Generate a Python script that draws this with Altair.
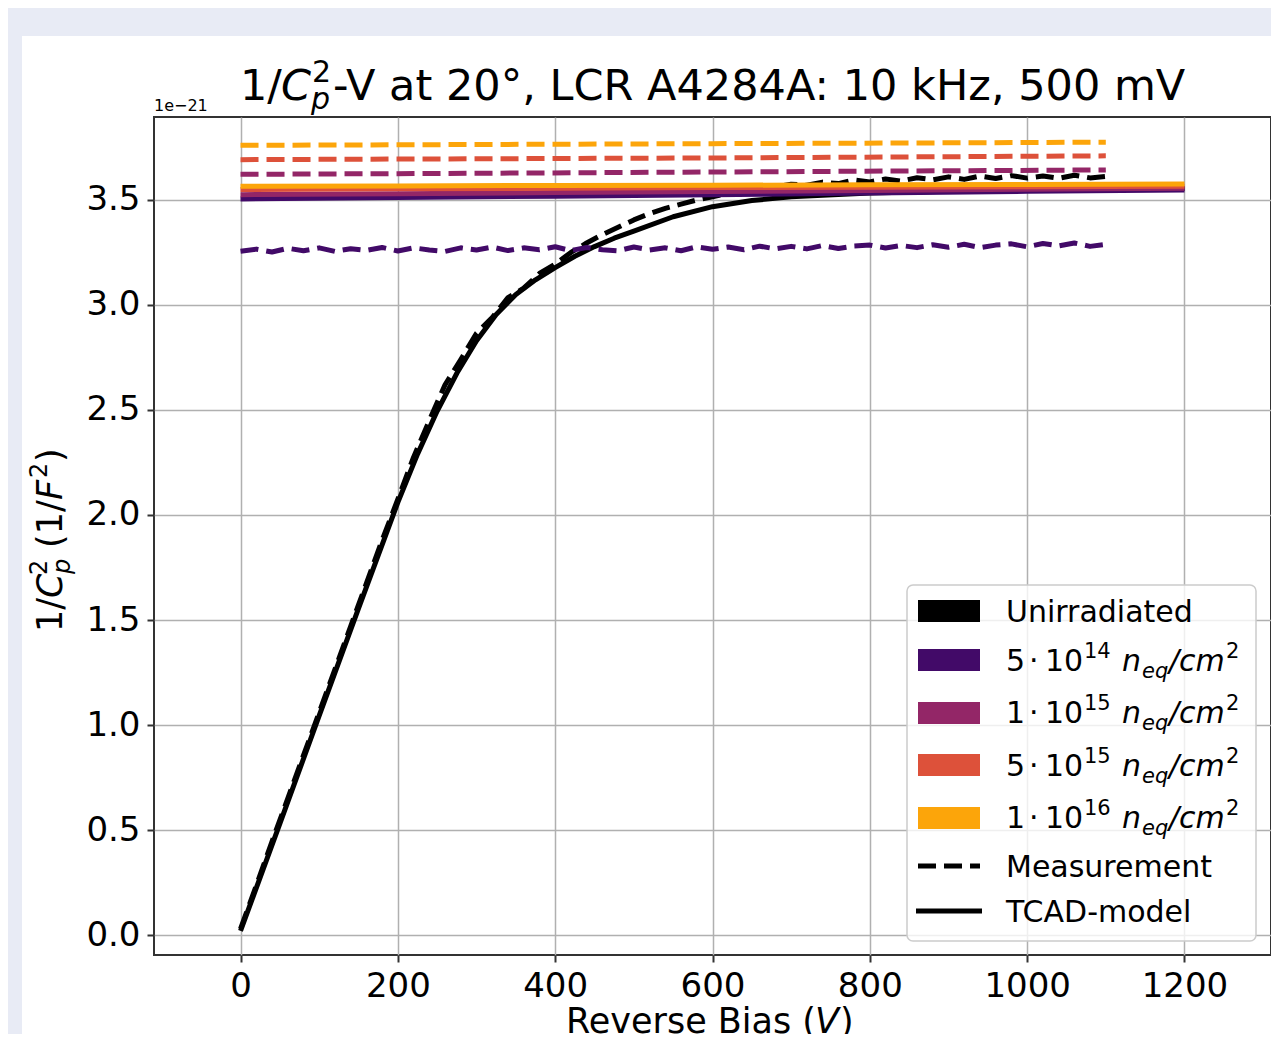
import altair as alt
import pandas as pd

# ---------------- data (1/C^2 in units of 1e-21 F^-2) ----------------
V_unirr_meas = list(range(0, 1101, 20))
unirr_meas = [0.03, 0.235, 0.445, 0.65, 0.855, 1.06, 1.265, 1.47, 1.675, 1.88,
              2.075, 2.275, 2.45, 2.62, 2.74, 2.865, 2.94, 3.035, 3.08, 3.15,
              3.195, 3.25, 3.295, 3.335, 3.37, 3.405, 3.435, 3.46, 3.48, 3.5,
              3.515, 3.532, 3.54, 3.558, 3.562, 3.575, 3.57, 3.585, 3.578, 3.595,
              3.586, 3.6, 3.59, 3.606, 3.596, 3.61, 3.598, 3.614, 3.602, 3.616,
              3.604, 3.614, 3.603, 3.618, 3.605, 3.612]

V_unirr_tcad = [0, 50, 100, 150, 200, 225, 250, 275, 300, 325, 350, 375, 400,
                425, 450, 475, 500, 550, 600, 650, 700, 800, 900, 1000, 1100, 1200]
unirr_tcad = [0.02, 0.53, 1.045, 1.555, 2.06, 2.29, 2.495, 2.675, 2.83, 2.955,
              3.05, 3.12, 3.178, 3.232, 3.278, 3.318, 3.352, 3.42, 3.468, 3.497,
              3.515, 3.533, 3.542, 3.547, 3.551, 3.554]

V_5e14_meas = list(range(0, 1101, 20))
f5e14_meas = [3.256, 3.266, 3.252, 3.27, 3.258, 3.272, 3.255, 3.268, 3.26, 3.274,
              3.257, 3.272, 3.262, 3.255, 3.272, 3.262, 3.276, 3.259, 3.272, 3.263,
              3.277, 3.259, 3.274, 3.263, 3.258, 3.276, 3.262, 3.272, 3.258, 3.277,
              3.265, 3.276, 3.263, 3.28, 3.267, 3.279, 3.267, 3.283, 3.269, 3.281,
              3.285, 3.271, 3.283, 3.273, 3.287, 3.275, 3.289, 3.273, 3.285, 3.291,
              3.277, 3.293, 3.281, 3.295, 3.279, 3.288]

V_flat_meas = [0, 300, 600, 900, 1100]
f1e15_meas = [3.622, 3.627, 3.633, 3.639, 3.643]
f5e15_meas = [3.692, 3.696, 3.700, 3.706, 3.710]
f1e16_meas = [3.760, 3.764, 3.768, 3.772, 3.775]

V_tcad_irr = [0, 200, 400, 600, 800, 1000, 1200]
f5e14_tcad = [3.505, 3.512, 3.518, 3.525, 3.533, 3.541, 3.548]
f1e15_tcad = [3.525, 3.530, 3.535, 3.540, 3.545, 3.551, 3.556]
f5e15_tcad = [3.550, 3.553, 3.556, 3.559, 3.561, 3.563, 3.565]
f1e16_tcad = [3.565, 3.567, 3.569, 3.570, 3.572, 3.574, 3.576]

series_colors = ["#000000", "#420a68", "#932667", "#dd513a", "#fca50a"]
x_ticks = [0, 200, 400, 600, 800, 1000, 1200]
y_ticks = [0.0, 0.5, 1.0, 1.5, 2.0, 2.5, 3.0, 3.5]

FONT = "DejaVu Sans"
OX, OY = 154, 117          # page position of the plot area's top-left corner
W, H = 1117, 838

X = alt.X("V:Q", scale=alt.Scale(domain=[-110, 1310], nice=False, zero=False),
          axis=alt.Axis(values=x_ticks, format="d", title=None))
Y = alt.Y("val:Q", scale=alt.Scale(domain=[-0.095, 3.895], nice=False, zero=False),
          axis=alt.Axis(values=y_ticks, format=".1f", title=None))


def line(vs, vals, color, dashed):
    df = pd.DataFrame({"V": vs, "val": vals})
    kw = dict(color=color, strokeWidth=5, strokeJoin="round", clip=True)
    if dashed:
        kw["strokeDash"] = [18, 8]
    return alt.Chart(df).mark_line(**kw).encode(x=X, y=Y)


one = pd.DataFrame({"a": [0]})


def piece(text, px, py, size, italic=False, angle=0):
    kw = dict(text=text, align="left", baseline="alphabetic", fontSize=size,
              font=FONT, color="black")
    if italic:
        kw["fontStyle"] = "italic"
    if angle:
        kw["angle"] = angle
    return alt.Chart(one).mark_text(**kw).encode(
        x=alt.value(px - OX), y=alt.value(py - OY))


def box(x1, y1, x2, y2, **kw):
    return alt.Chart(one).mark_rect(**kw).encode(
        x=alt.value(x1 - OX), x2=alt.value(x2 - OX),
        y=alt.value(y1 - OY), y2=alt.value(y2 - OY))


layers = []
# page-like lavender strips around the white figure
layers.append(box(8, 8, 1290, 36, color="#e8ebf5", clip=False))
layers.append(box(8, 8, 22, 1040, color="#e8ebf5", clip=False))

# data lines (drawing order: measurement then model for each fluence)
layers += [
    line(V_unirr_meas, unirr_meas, series_colors[0], True),
    line(V_unirr_tcad, unirr_tcad, series_colors[0], False),
    line(V_5e14_meas, f5e14_meas, series_colors[1], True),
    line(V_tcad_irr, f5e14_tcad, series_colors[1], False),
    line(V_flat_meas, f1e15_meas, series_colors[2], True),
    line(V_tcad_irr, f1e15_tcad, series_colors[2], False),
    line(V_flat_meas, f5e15_meas, series_colors[3], True),
    line(V_tcad_irr, f5e15_tcad, series_colors[3], False),
    line(V_flat_meas, f1e16_meas, series_colors[4], True),
    line(V_tcad_irr, f1e16_tcad, series_colors[4], False),
]

# ---------------- legend ----------------
layers.append(box(907, 585, 1256, 941, fill="white", fillOpacity=0.8,
                  stroke="#cccccc", strokeWidth=1.5, cornerRadius=6))
patch_centers = [611, 660, 713, 765, 818]
text_base = [622, 671, 723, 776, 828]
for c, yc in zip(series_colors, patch_centers):
    layers.append(box(918, yc - 11, 980, yc + 11, color=c))
layers.append(alt.Chart(one).mark_rule(color="black", strokeWidth=5,
                                       strokeDash=[18, 8]).encode(
    x=alt.value(918 - OX), x2=alt.value(980 - OX), y=alt.value(866 - OY)))
layers.append(alt.Chart(one).mark_rule(color="black", strokeWidth=5).encode(
    x=alt.value(916 - OX), x2=alt.value(982 - OX), y=alt.value(911 - OY)))

layers.append(piece("Unirradiated", 1006, text_base[0], 30))
for (m, e), yb in zip([("5", "14"), ("1", "15"), ("5", "15"), ("1", "16")], text_base[1:]):
    layers += [
        piece(m, 1006, yb, 30),
        piece("·", 1029, yb, 30),
        piece("10", 1045, yb, 30),
        piece(e, 1084, yb - 13, 21),
        piece("n", 1122, yb, 30, italic=True),
        piece("eq", 1142, yb + 7, 21, italic=True),
        piece("/cm", 1169, yb, 30, italic=True),
        piece("2", 1226, yb - 13, 21),
    ]
layers.append(piece("Measurement", 1006, 877, 30))
layers.append(piece("TCAD-model", 1006, 922, 30))

# ---------------- title ----------------
layers += [
    piece("1/", 240, 100, 43),
    piece("C", 281, 100, 43, italic=True),
    piece("p", 311, 109, 30, italic=True),
    piece("2", 312, 82, 30),
    piece("-V at 20°, LCR A4284A: 10 kHz, 500 mV", 333, 100, 43),
    piece("1e\u221221", 154, 111, 16),
]

# ---------------- axis titles ----------------
layers += [
    piece("Reverse Bias (", 566, 1033, 35),
    piece("V", 815, 1033, 35, italic=True),
    piece(")", 840, 1033, 35),
]
bx = 62
layers += [
    piece("1/", bx, 632, 35, angle=270),
    piece("C", bx, 598, 35, italic=True, angle=270),
    piece("p", bx + 8, 574, 24, italic=True, angle=270),
    piece("2", bx - 15, 575, 24, angle=270),
    piece("(1/", bx, 548, 35, angle=270),
    piece("F", bx, 500, 35, italic=True, angle=270),
    piece("2", bx - 15, 478, 24, angle=270),
    piece(")", bx, 462, 35, angle=270),
]

chart = alt.layer(*layers).properties(
    width=W, height=H,
    autosize=alt.AutoSizeParams(type="none"),
    padding={"left": OX - 8, "top": OY - 8, "right": 0, "bottom": 79},
).configure(background="white").configure_view(
    stroke="#333333", strokeWidth=2
).configure_axis(
    labelFont=FONT, labelFontSize=34, labelColor="black",
    grid=True, gridColor="#b0b0b0", gridWidth=1.5,
    domain=False, tickColor="#333333", tickWidth=2, tickSize=7,
    labelPadding=7,
)

chart.save("out.html", embed_options={"renderer": "svg", "actions": False})
